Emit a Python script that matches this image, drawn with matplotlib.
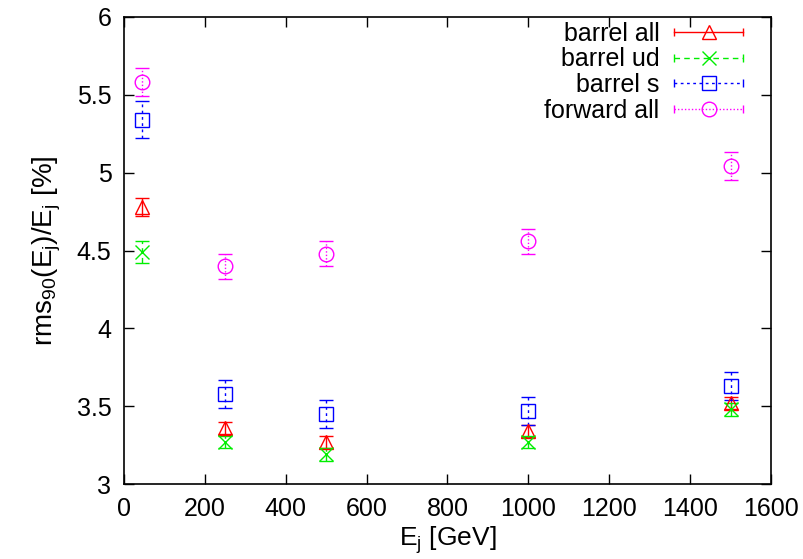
import matplotlib
matplotlib.use("Agg")
import matplotlib.pyplot as plt
from matplotlib.lines import Line2D
from matplotlib.legend_handler import HandlerBase

plt.rcParams['font.family'] = ['Liberation Sans', 'DejaVu Sans']
plt.rcParams['mathtext.fontset'] = 'custom'
plt.rcParams['mathtext.rm'] = 'Liberation Sans'
plt.rcParams['mathtext.it'] = 'Liberation Sans:italic'

# ---- data ----
energy = [45, 250, 500, 1000, 1500]
barrel_all = [4.78, 3.36, 3.27, 3.34, 3.52]
barrel_all_err = [0.06, 0.04, 0.04, 0.04, 0.04]
barrel_ud = [4.49, 3.27, 3.19, 3.27, 3.48]
barrel_ud_err = [0.07, 0.04, 0.04, 0.04, 0.04]
barrel_s = [5.34, 3.58, 3.45, 3.47, 3.63]
barrel_s_err = [0.12, 0.09, 0.09, 0.09, 0.09]
forward_all = [5.58, 4.40, 4.48, 4.56, 5.04]
forward_all_err = [0.09, 0.08, 0.08, 0.08, 0.09]
labels = ["barrel all", "barrel ud", "barrel s", "forward all"]
x_ticks = [0, 200, 400, 600, 800, 1000, 1200, 1400, 1600]
y_ticks = [3, 3.5, 4, 4.5, 5, 5.5, 6]

styles = [
    dict(color='#ff0000', ls='-', marker='^'),
    dict(color='#00ee00', ls=(0, (4, 3)), marker='x'),
    dict(color='#0000ff', ls=(0, (2, 2.5)), marker='s'),
    dict(color='#ff00ff', ls=(0, (1, 1.5)), marker='o'),
]
series = [(barrel_all, barrel_all_err), (barrel_ud, barrel_ud_err),
          (barrel_s, barrel_s_err), (forward_all, forward_all_err)]

MS = 10.5
CAP = 6
LW = 1.0


class GPHandler(HandlerBase):
    def __init__(self, st):
        super().__init__()
        self.st = st

    def create_artists(self, legend, orig_handle, xdescent, ydescent,
                       width, height, fontsize, trans):
        st = self.st
        y = height / 2 - ydescent
        x0 = -xdescent
        x1 = -xdescent + width
        line = Line2D([x0, x1], [y, y], color=st['color'], ls=st['ls'], lw=LW)
        caps = Line2D([x0, x1], [y, y], ls='none', marker='|', ms=CAP,
                      mew=LW, color=st['color'])
        mk = Line2D([(x0 + x1) / 2], [y], ls='none', marker=st['marker'],
                    ms=MS, mfc='none', mec=st['color'], mew=LW)
        for a in (line, caps, mk):
            a.set_transform(trans)
        return [line, caps, mk]


fig = plt.figure(figsize=(8.04, 5.59), dpi=100)
ax = fig.add_axes([124 / 804, 1 - 484 / 559, (771 - 124) / 804, (484 - 17) / 559])

handles = []
hmap = {}
for (vals, errs), st in zip(series, styles):
    cont = ax.errorbar(energy, vals, yerr=errs, ls='none', marker=st['marker'],
                       ms=MS, mfc='none', mec=st['color'], mew=LW,
                       ecolor=st['color'], elinewidth=LW, capsize=5,
                       capthick=LW)
    for lc in cont[2]:
        lc.set_linestyle(st['ls'])
    handles.append(cont)
    hmap[cont] = GPHandler(st)

ax.set_xlim(0, 1600)
ax.set_ylim(3, 6)
ax.set_xticks(x_ticks)
ax.set_yticks(y_ticks)
ax.set_yticklabels([f"{v:g}" for v in y_ticks])
ax.tick_params(direction='in', top=True, right=True, length=7, width=1,
               labelsize=18)
ax.tick_params(axis='y', pad=9)
ax.tick_params(axis='x', pad=9)
for s in ax.spines.values():
    s.set_linewidth(1.2)

ax.set_xlabel(r'E$_{\mathrm{j}}$ [GeV]', fontsize=19, labelpad=3)
ax.set_ylabel(r'rms$_{\mathrm{90}}$(E$_{\mathrm{j}}$)/E$_{\mathrm{j}}$ [%]',
              fontsize=20, labelpad=10)

leg = ax.legend(handles, labels, handler_map=hmap, loc='upper right',
                frameon=False, markerfirst=False, fontsize=18,
                handlelength=2.75, handletextpad=0.6, labelspacing=0.07,
                borderaxespad=0.0, borderpad=0.0,
                bbox_to_anchor=(0.957, 0.99))
for t in leg.get_texts():
    t.set_ha('right')

fig.savefig('out.png', dpi=100)
